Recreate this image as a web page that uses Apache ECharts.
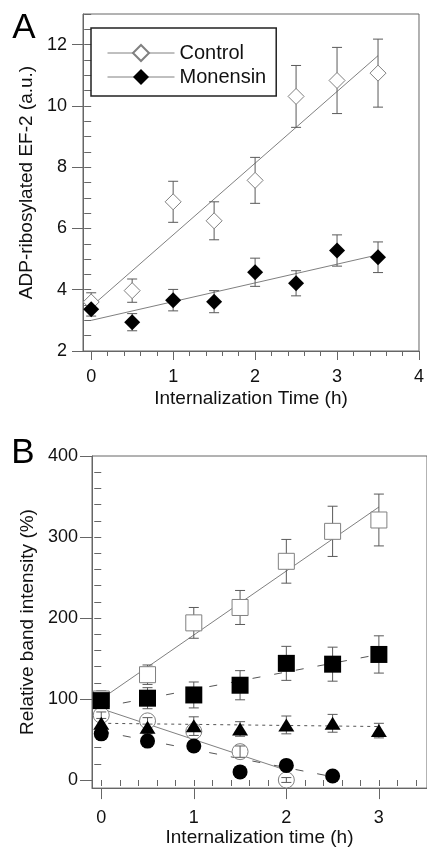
<!DOCTYPE html>
<html>
<head>
<meta charset="utf-8">
<script src="https://cdn.jsdelivr.net/npm/echarts@6/dist/echarts.min.js"></script>
<style>
html, body { margin: 0; padding: 0; background: #fff; }
#chart { width: 427px; height: 848px; }
</style>
</head>
<body>
<div id="chart"></div>
<script>
// ---- panel A data ----
var timeA = [0, 0.5, 1, 1.5, 2, 2.5, 3, 3.5];
var controlA = [3.6, 3.97, 6.87, 6.25, 7.57, 10.31, 10.83, 11.07];
var controlErrA = [0.3, 0.38, 0.67, 0.62, 0.75, 1.01, 1.08, 1.11];
var monensinA = [3.36, 2.94, 3.66, 3.61, 4.57, 4.21, 5.28, 5.06];
var monensinErrA = [0.22, 0.28, 0.35, 0.36, 0.46, 0.41, 0.51, 0.5];
var controlFitA = [[0, 3.45], [3.5, 11.64]];
var monensinFitA = [[0, 3.0], [3.5, 5.14]];
var xTicksA = [0, 1, 2, 3, 4];
var yTicksA = [2, 4, 6, 8, 10, 12];

// ---- panel B data ----
var timeB = [0, 0.5, 1, 1.5, 2, 2.5, 3];
var openSq = [100, 130, 194, 213, 270, 307, 321];
var openSqErr = [10, 12, 19, 21, 27, 31, 32];
var fillSq = [98, 101, 105, 117, 144, 143, 155];
var fillSqErr = [8, 13, 16, 18, 21, 21, 23];
var triangles = [70, 65, 67, 63, 68, 70, 61];
var trianglesErr = [8, 8, 11, 9, 11, 11, 9];
var timeCircle = [0, 0.5, 1, 1.5, 2];
var openCircle = [80, 73, 60, 35, 0];
var openCircleErr = [4, 4, 5, 7, 3];
var timeFillCircle = [0, 0.5, 1, 1.5, 2, 2.5];
var fillCircle = [57, 48, 42, 10, 18, 5];
var openSqFit = [[0, 100], [3, 337]];
var fillSqFit = [[0, 90], [3, 155]];
var triangleFit = [[0, 70], [3, 66]];
var openCircleFit = [[0, 88], [2, 12]];
var fillCircleFit = [[0, 60], [2.5, 4]];
var xTicksB = [0, 1, 2, 3];
var yTicksB = [0, 100, 200, 300, 400];

function range(a, b, step) {
  var out = [];
  for (var v = a; v <= b + 1e-9; v += step) out.push(Math.round(v * 1000) / 1000);
  return out;
}

var font = 'Liberation Sans';
var axisGray = '#666';
var lineGray = '#808080';

function pairs(xs, ys) {
  return xs.map(function (x, i) { return [x, ys[i]]; });
}

function errorBars(xs, ys, errs, axisIdx, z) {
  return {
    type: 'custom',
    xAxisIndex: axisIdx,
    yAxisIndex: axisIdx,
    z: z,
    silent: true,
    data: xs.map(function (x, i) { return [x, ys[i] - errs[i], ys[i] + errs[i]]; }),
    encode: { x: 0, y: [1, 2] },
    renderItem: function (params, api) {
      var lo = api.coord([api.value(0), api.value(1)]);
      var hi = api.coord([api.value(0), api.value(2)]);
      var w = 5;
      var st = { stroke: '#5a5a5a', lineWidth: 1 };
      return {
        type: 'group',
        children: [
          { type: 'line', shape: { x1: hi[0], y1: hi[1], x2: lo[0], y2: lo[1] }, style: st },
          { type: 'line', shape: { x1: hi[0] - w, y1: hi[1], x2: hi[0] + w, y2: hi[1] }, style: st },
          { type: 'line', shape: { x1: lo[0] - w, y1: lo[1], x2: lo[0] + w, y2: lo[1] }, style: st }
        ]
      };
    }
  };
}

function fitLine(points, axisIdx, color, type, z) {
  return {
    type: 'line',
    xAxisIndex: axisIdx,
    yAxisIndex: axisIdx,
    data: points,
    symbol: 'none',
    silent: true,
    z: z,
    lineStyle: { color: color, width: 1, type: type }
  };
}

function marks(xs, ys, symbol, size, filled, z) {
  return {
    type: 'scatter',
    xAxisIndex: 2,
    yAxisIndex: 2,
    data: pairs(xs, ys),
    symbol: symbol,
    symbolSize: size,
    z: z,
    silent: true,
    itemStyle: filled
      ? { color: '#000', opacity: 1 }
      : { color: '#fff', borderColor: lineGray, borderWidth: 1, opacity: 1 }
  };
}

function majorAxis(dim, grid, min, max, ticks, len, margin, name, gap) {
  return {
    type: 'value',
    gridIndex: grid,
    min: min,
    max: max,
    position: dim === 'x' ? 'bottom' : 'left',
    axisLine: { show: true, onZero: false, lineStyle: { color: axisGray, width: 1 } },
    axisTick: { show: true, customValues: ticks, length: len, lineStyle: { color: axisGray } },
    axisLabel: { customValues: ticks, margin: margin, fontSize: 18, fontFamily: font, color: '#111' },
    splitLine: { show: false },
    name: name,
    nameLocation: 'middle',
    nameGap: gap,
    nameTextStyle: { fontSize: 19, fontFamily: font, color: '#111' }
  };
}

function minorAxis(dim, grid, min, max, ticks, len) {
  return {
    type: 'value',
    gridIndex: grid,
    min: min,
    max: max,
    position: dim === 'x' ? 'bottom' : 'left',
    axisLine: { show: false },
    axisTick: { show: true, customValues: ticks, length: len, lineStyle: { color: axisGray } },
    axisLabel: { show: false },
    splitLine: { show: false }
  };
}

var chart = echarts.init(document.getElementById('chart'), null, { renderer: 'canvas' });

var option = {
  animation: false,
  backgroundColor: '#fff',
  textStyle: { fontFamily: font },
  grid: [
    { left: 83, top: 14, width: 337, height: 337, show: true, borderColor: axisGray, borderWidth: 1, backgroundColor: 'transparent' },
    { left: 92, top: 456, width: 338, height: 336, show: true, borderColor: axisGray, borderWidth: 1, backgroundColor: 'transparent' }
  ],
  xAxis: [
    majorAxis('x', 0, -0.1, 4, xTicksA, 9, 17, 'Internalization Time (h)', 38),
    minorAxis('x', 0, -0.1, 4, range(0, 4, 0.2), 5),
    majorAxis('x', 1, -0.1, 3.52, xTicksB, 11, 21, 'Internalization time (h)', 38),
    minorAxis('x', 1, -0.1, 3.52, range(0, 3.4, 0.2), 6)
  ],
  yAxis: [
    majorAxis('y', 0, 2, 13, yTicksA, 11, 16, 'ADP-ribosylated EF-2 (a.u.)', 36),
    minorAxis('y', 0, 2, 13, range(2.5, 13, 0.5), 7),
    majorAxis('y', 1, -10, 400, yTicksB, 12, 14, 'Relative band intensity (%)', 50),
    minorAxis('y', 1, -10, 400, range(20, 380, 20), 7)
  ],
  legend: {
    data: ['Control', 'Monensin'],
    orient: 'vertical',
    left: 91,
    top: 28,
    padding: [15, 10, 9, 16],
    itemGap: 4,
    itemWidth: 67,
    itemHeight: 20,
    borderColor: '#222',
    borderWidth: 1.5,
    textStyle: { fontSize: 20, fontFamily: font, color: '#111' },
    lineStyle: { color: lineGray, width: 1, opacity: 1, type: 'solid' }
  },
  graphic: [
    { type: 'text', x: 24, y: 28, style: { text: 'A', font: '35px "Liberation Sans"', fill: '#000', align: 'center', verticalAlign: 'middle' } },
    { type: 'text', x: 23, y: 453, style: { text: 'B', font: '35px "Liberation Sans"', fill: '#000', align: 'center', verticalAlign: 'middle' } }
  ],
  series: [
    // panel A
    fitLine(controlFitA, 0, lineGray, 'solid', 2),
    fitLine(monensinFitA, 0, lineGray, 'solid', 2),
    errorBars(timeA, controlA, controlErrA, 0, 3),
    errorBars(timeA, monensinA, monensinErrA, 0, 3),
    {
      name: 'Control',
      type: 'line',
      xAxisIndex: 0,
      yAxisIndex: 0,
      data: pairs(timeA, controlA),
      symbol: 'diamond',
      symbolSize: 16,
      showSymbol: true,
      z: 5,
      lineStyle: { opacity: 0 },
      itemStyle: { color: '#fff', borderColor: lineGray, borderWidth: 1 }
    },
    {
      name: 'Monensin',
      type: 'line',
      xAxisIndex: 0,
      yAxisIndex: 0,
      data: pairs(timeA, monensinA),
      symbol: 'diamond',
      symbolSize: 16,
      showSymbol: true,
      z: 5,
      lineStyle: { opacity: 0 },
      itemStyle: { color: '#000', borderColor: '#000', borderWidth: 0 }
    },
    // panel B
    fitLine(openSqFit, 2, lineGray, 'solid', 2),
    fitLine(fillSqFit, 2, '#555', [8, 14], 2),
    fitLine(triangleFit, 2, '#555', [3, 4], 2),
    fitLine(openCircleFit, 2, lineGray, 'solid', 2),
    fitLine(fillCircleFit, 2, '#555', [8, 14], 2),
    errorBars(timeB, openSq, openSqErr, 2, 3),
    errorBars(timeB, fillSq, fillSqErr, 2, 3),
    errorBars(timeB, triangles, trianglesErr, 2, 3),
    marks(timeB, openSq, 'rect', 16, false, 4),
    marks(timeCircle, openCircle, 'circle', 16, false, 5),
    errorBars(timeCircle, openCircle, openCircleErr, 2, 6),
    marks(timeB, triangles, 'triangle', [16, 13], true, 7),
    marks(timeFillCircle, fillCircle, 'circle', 15, true, 8),
    marks(timeB, fillSq, 'rect', 17, true, 9)
  ]
};

chart.setOption(option);
</script>
</body>
</html>
